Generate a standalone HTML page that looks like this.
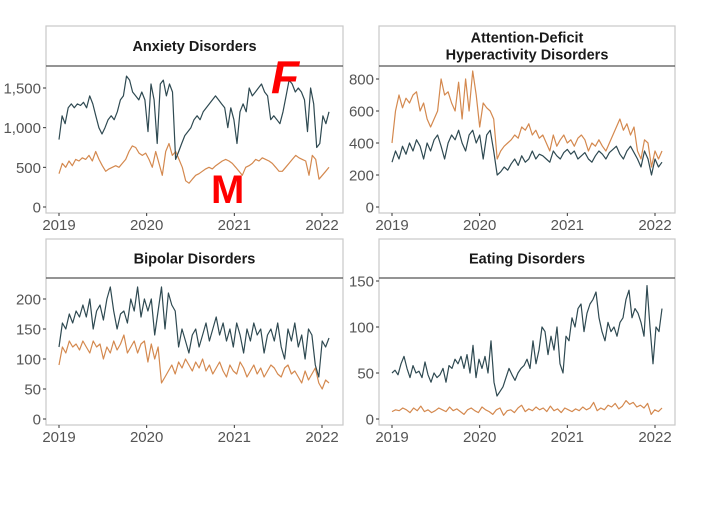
<!DOCTYPE html>
<html><head><meta charset="utf-8"><style>
html,body{margin:0;padding:0;background:#fff;}
svg{display:block;font-family:"Liberation Sans",sans-serif;}
</style></head><body>
<svg id="chart" width="727" height="512" viewBox="0 0 727 512"></svg>
<script>
const startYear = 2019.0, endYear = 2022.08;
const xTickLabels = ["2019","2020","2021","2022"];
const xTickValues = [2019,2020,2021,2022];

const anxietyTitle = ["Anxiety Disorders"];
const anxietyTicks = [0,500,1000,1500];
const anxietyF = [850,1150,1050,1250,1300,1250,1300,1280,1320,1250,1400,1300,1150,1000,920,1000,1100,1150,1100,1200,1350,1400,1650,1600,1450,1400,1350,1450,1350,950,1550,1350,800,1550,1600,1400,1550,1450,600,700,800,900,950,1000,1100,1150,1100,1200,1250,1300,1350,1400,1350,1300,1250,1000,1250,1100,800,1200,1300,1200,1500,1400,1450,1500,1550,1450,1400,1100,1150,1100,1050,1200,1400,1600,1550,1450,1500,1450,1350,950,1500,1300,750,800,1150,1050,1200];
const anxietyM = [420,550,500,580,520,600,580,620,600,650,580,700,600,520,450,480,500,520,500,550,600,700,770,750,680,650,680,600,500,700,550,400,700,800,650,700,600,500,330,300,350,400,420,450,480,500,480,520,550,580,600,580,550,500,450,400,500,520,550,600,580,620,600,580,550,500,450,450,500,550,600,650,620,600,580,400,650,600,350,400,450,500];

const adhdTitle = ["Attention-Deficit","Hyperactivity Disorders"];
const adhdTicks = [0,200,400,600,800];
const adhdF = [280,350,300,380,330,400,350,420,380,300,400,350,420,450,380,300,400,450,420,480,400,350,450,480,400,450,300,450,480,350,200,220,250,230,270,300,260,320,280,300,350,300,330,320,300,280,350,320,300,340,360,330,350,300,320,340,300,280,320,350,330,300,340,360,380,330,300,350,380,340,300,250,350,300,200,300,250,280];
const adhdM = [400,600,700,620,680,650,700,720,600,650,550,500,550,600,800,700,720,650,600,780,550,800,600,850,700,500,650,620,600,550,300,350,380,400,420,450,430,500,480,520,450,480,430,450,400,350,450,380,420,450,400,420,380,430,450,420,350,400,380,420,380,350,400,450,500,550,480,520,450,500,350,300,420,400,250,350,300,350];

const bipolarTitle = ["Bipolar Disorders"];
const bipolarTicks = [0,50,100,150,200];
const bipolarF = [120,160,150,175,160,180,170,190,170,200,150,180,190,165,200,220,180,150,175,180,160,200,180,220,170,200,180,200,140,180,220,150,210,190,180,120,150,130,110,140,150,120,140,160,130,150,170,140,160,130,150,120,160,140,110,150,130,160,140,150,110,140,150,130,160,120,100,150,130,160,120,140,100,150,140,90,70,130,120,135];
const bipolarM = [90,120,110,130,120,125,115,130,120,110,130,120,125,100,120,110,130,115,125,140,110,120,130,110,125,130,95,125,100,120,60,70,80,90,75,95,85,100,90,80,95,85,100,80,90,75,85,95,80,70,90,80,75,95,85,70,80,90,75,85,70,80,90,85,75,70,85,90,75,80,70,60,80,65,75,85,60,50,65,60];

const eatingTitle = ["Eating Disorders"];
const eatingTicks = [0,50,100,150];
const eatingF = [50,53,48,60,68,55,45,58,50,52,45,62,48,40,50,45,48,55,40,58,55,65,60,68,55,70,50,80,45,65,55,68,50,85,40,25,30,35,45,55,48,42,50,55,58,65,55,85,60,75,100,95,70,90,75,100,60,50,90,85,110,100,120,125,95,115,125,130,138,110,95,85,105,95,100,90,105,110,130,140,110,120,115,105,90,145,100,60,100,95,120];
const eatingM = [8,10,9,12,10,7,12,9,14,8,10,7,9,12,10,8,13,9,11,8,5,10,12,9,7,13,10,8,5,10,12,4,9,10,7,12,15,8,11,9,13,10,12,8,14,9,11,7,12,10,8,11,9,13,10,12,18,9,12,10,15,13,17,11,14,20,16,18,13,15,12,17,5,10,8,12];

const NS = "http://www.w3.org/2000/svg";
const svg = document.getElementById("chart");
function mk(tag, attrs, parent){
  const e = document.createElementNS(NS, tag);
  for (const k in attrs) e.setAttribute(k, attrs[k]);
  (parent||svg).appendChild(e);
  return e;
}

function panel(cfg){
  const g = mk("g", {});
  
  
  const box = mk("rect", {x:cfg.left, y:cfg.top, width:cfg.right-cfg.left, height:cfg.bottom-cfg.top, fill:"none", stroke:"#c8c8c8", "stroke-width":1.2}, g);
  
  
  const sl = mk("line", {x1:cfg.left, x2:cfg.right, y1:cfg.strip, y2:cfg.strip, stroke:"#555", "stroke-width":1.3}, g);
  
  
  const n = cfg.title.length;
  const cx = (cfg.left+cfg.right)/2, cy = (cfg.top+cfg.strip)/2;
  cfg.title.forEach((t,i)=>{
    const tx = mk("text", {x:cx, y:cy + 5 + (i-(n-1)/2)*17, "text-anchor":"middle", "font-size":14.5, "font-weight":"bold", fill:"#1a1a1a"}, g);
    tx.textContent = t;
    
    
  });
  const xs = v => cfg.x0 + (v-2019)*(cfg.x1-cfg.x0)/3;
  const ys = v => cfg.y0 - v*cfg.yScale;
  cfg.ticks.forEach(v=>{
    const y = ys(v);
    const tk = mk("line", {x1:cfg.left-3, x2:cfg.left, y1:y, y2:y, stroke:"#333", "stroke-width":1}, g);
    
    
    const lb = mk("text", {x:cfg.left-5, y:y+5.5, "text-anchor":"end", "font-size":15, fill:"#555"}, g);
    lb.textContent = v.toLocaleString("en-US");
    
    
  });
  xTickValues.forEach((v,i)=>{
    const x = xs(v);
    const tk = mk("line", {x1:x, x2:x, y1:cfg.bottom, y2:cfg.bottom+3, stroke:"#333", "stroke-width":1}, g);
    
    
    const lb = mk("text", {x:x, y:cfg.bottom+17, "text-anchor":"middle", "font-size":15, fill:"#555"}, g);
    lb.textContent = xTickLabels[i];
    
    
  });
  [[cfg.m,"#d4894f","male"],[cfg.f,"#2f4a52","female"]].forEach(([arr,col,lab])=>{
    const step = (endYear-startYear)/(arr.length-1);
    const d = arr.map((v,i)=>(i?"L":"M")+xs(startYear+i*step).toFixed(1)+","+ys(v).toFixed(1)).join(" ");
    const p = mk("path", {d:d, fill:"none", stroke:col, "stroke-width":1.2, "stroke-linejoin":"round"}, g);
    
    
  });
}

panel({name:"anxiety", title:anxietyTitle, ticks:anxietyTicks, f:anxietyF, m:anxietyM,
  left:46, right:343, top:26, strip:66, bottom:213, x0:59, x1:322, y0:207, yScale:(207-88)/1500});
panel({name:"adhd", title:adhdTitle, ticks:adhdTicks, f:adhdF, m:adhdM,
  left:379, right:675, top:26, strip:66, bottom:213, x0:392, x1:655, y0:207, yScale:(207-79)/800});
panel({name:"bipolar", title:bipolarTitle, ticks:bipolarTicks, f:bipolarF, m:bipolarM,
  left:46, right:343, top:239, strip:278, bottom:425, x0:59, x1:322, y0:419, yScale:(419-299)/200});
panel({name:"eating", title:eatingTitle, ticks:eatingTicks, f:eatingF, m:eatingM,
  left:379, right:675, top:239, strip:278, bottom:425, x0:392, x1:655, y0:419, yScale:(419-281)/150});

const fa = mk("text", {x:271, y:93, "font-size":46, "font-weight":"bold", "font-style":"italic", fill:"#ff0000"});
fa.textContent = "F";


const ma = mk("text", {x:211, y:203, "font-size":40, "font-weight":"bold", fill:"#ff0000"});
ma.textContent = "M";


</script>
</body></html>
